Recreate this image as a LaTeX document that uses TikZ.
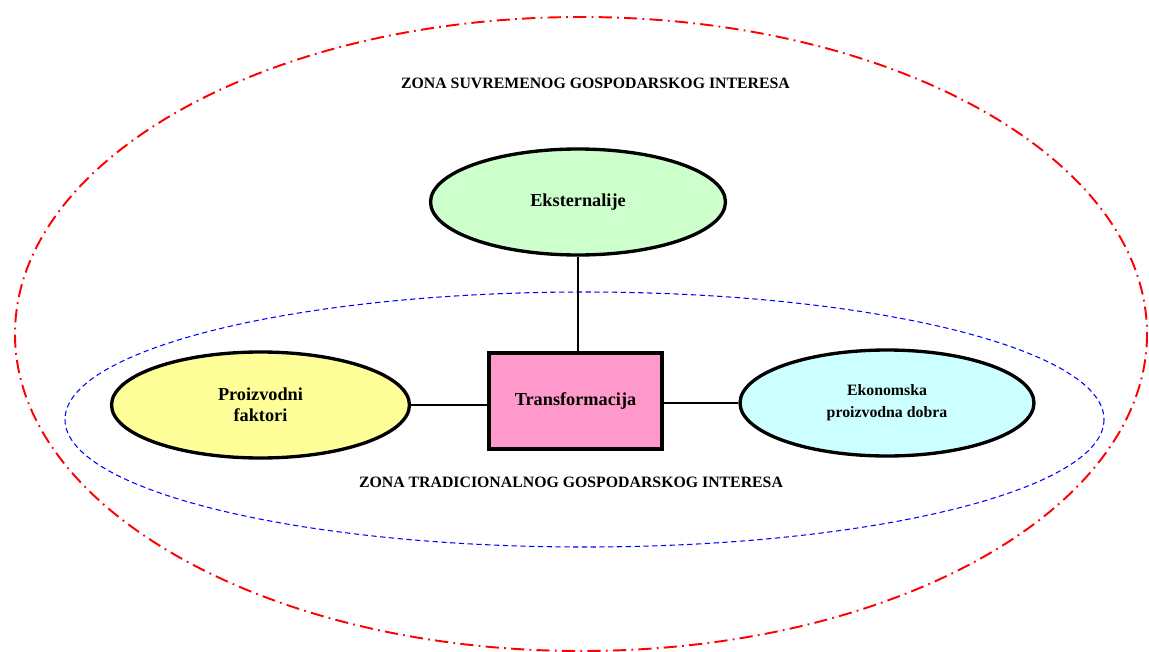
\documentclass[tikz,border=0pt]{standalone}
\usepackage{fontspec}
\setmainfont{Liberation Serif}
\usetikzlibrary{shapes.geometric}

\begin{document}
\begin{tikzpicture}[x=0.02cm, y=-0.02cm, font=\bfseries]
    % Boje kao na slici
    \definecolor{zelena}{RGB}{204, 255, 204}
    \definecolor{zuta}{RGB}{255, 255, 153}
    \definecolor{ruzicasta}{RGB}{255, 153, 204}
    \definecolor{plava}{RGB}{204, 255, 255}

    \tikzset{
        elipsa/.style={ellipse, draw, line width=1.9pt, align=center,
            minimum width=5.9cm, minimum height=2.12cm, inner sep=0pt},
        kutija/.style={rectangle, draw, line width=2.1pt,
            minimum width=3.46cm, minimum height=1.92cm, fill=ruzicasta},
        zona/.style={font=\bfseries\fontsize{9}{11}\selectfont}
    }

    % Okvir slike
    \useasboundingbox (0, 0) rectangle (1149, 652);

    % Vanjska zona (crta-tocka)
    \draw[red, line width=1.1pt, dash pattern=on 7.5pt off 3pt on 1pt off 3pt]
        (581, 334) ellipse [x radius=566, y radius=317];

    % Unutarnja zona (isprekidano)
    \draw[blue, line width=0.6pt, dash pattern=on 3pt off 2pt]
        (584.5, 419.5) ellipse [x radius=519.5, y radius=127.5];

    % Natpisi zona
    \node[zona] (gornja) at (595.5, 83) {ZONA SUVREMENOG GOSPODARSKOG INTERESA};
    \node[zona] (donja) at (571, 482) {ZONA TRADICIONALNOG GOSPODARSKOG INTERESA};

    % Cvorovi
    \node[elipsa, fill=zelena, font=\bfseries\fontsize{10.4}{12}\selectfont]
        (eks) at (578, 202) {Eksternalije};
    \node[elipsa, fill=zuta, minimum width=5.96cm,
        font=\bfseries\fontsize{10.4}{12}\selectfont]
        (pf) at (260.5, 405) {Proizvodni\\faktori};
    \node[kutija, font=\bfseries\fontsize{10.4}{12}\selectfont]
        (tr) at (575.5, 401) {Transformacija};
    \node[elipsa, fill=plava, minimum width=5.88cm,
        font=\bfseries\fontsize{9}{12.5}\selectfont]
        (epd) at (887, 403) {Ekonomska\\proizvodna dobra};

    % Veze
    \draw[line width=0.8pt] (eks.south) -- (eks.south |- tr.north);
    \draw[line width=0.8pt] (pf.east) -- (pf.east -| tr.west);
    \draw[line width=0.8pt] (tr.east |- epd.west) -- (epd.west);

\end{tikzpicture}
\end{document}
